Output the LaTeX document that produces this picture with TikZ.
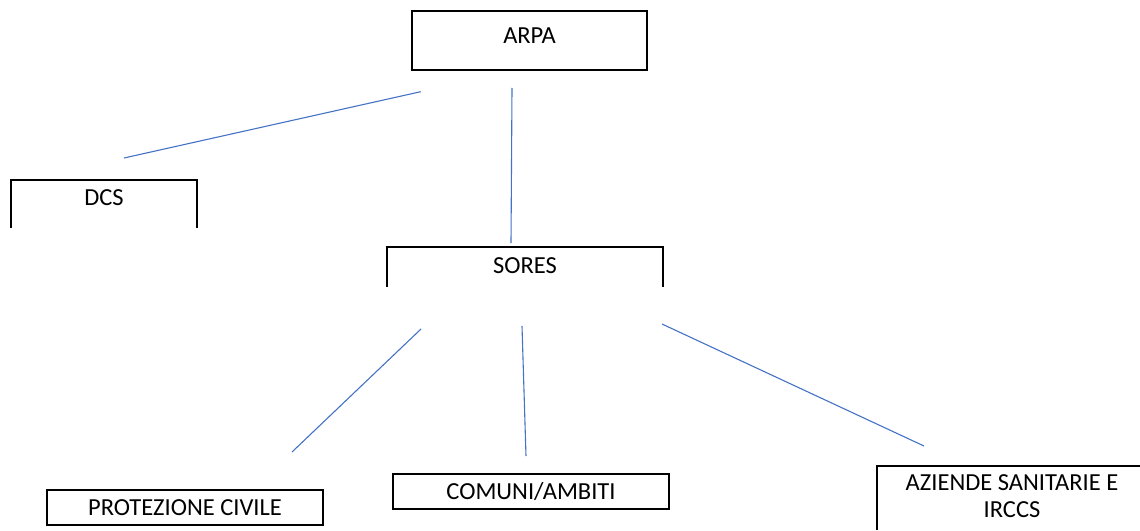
\documentclass[tikz,border=0pt]{standalone}
\usepackage{fontspec}
\setmainfont{Carlito}
\usetikzlibrary{positioning}
\definecolor{linkblue}{RGB}{68,114,196}
\tikzstyle{org}=[draw, line width=1.8pt, minimum height=35pt, minimum width=276pt, inner sep=0pt, font=\fontsize{24.5}{27}\selectfont]
\tikzstyle{lbl}=[inner sep=0pt, align=center, font=\fontsize{24.5}{27}\selectfont]
\tikzstyle{half}=[line width=1.8pt]
\tikzstyle{link}=[draw=linkblue, line width=1.1pt]

\begin{document}
\begin{tikzpicture}[x=1pt,y=-1pt]
\useasboundingbox (0,0) rectangle (1140,530);

\node[org, minimum width=235pt, minimum height=59pt, text depth=9pt, text height=15pt] at (529.5,40.5) (arpa) {ARPA};

% boxes open at the bottom
\node[lbl] at (104,198) (dcs) {DCS};
\draw[half] (11,228) |- (197,180) -- (197,228);

\node[lbl] at (525,265.5) (sores) {SORES};
\draw[half] (387,287) |- (663,247) -- (663,287);

\node[org] at (185,507.5) (protciv) {PROTEZIONE CIVILE};
\node[org] at (531,491.5) (comuni) {COMUNI/AMBITI};

\node[lbl] at (1012,496) (aziende) {AZIENDE SANITARIE E\\IRCCS};
\draw[half] (877,530) |- (1140,466);

% loose connectors
\coordinate (arpaL) at (420.7,91.7);
\coordinate (arpaB) at (512,88);
\coordinate (dcsT) at (124,158);
\coordinate (soresT) at (511,243);
\coordinate (soresL) at (421,329);
\coordinate (soresB) at (522,326);
\coordinate (soresR) at (662,324);
\coordinate (protT) at (292,452);
\coordinate (comT) at (526,456);
\coordinate (azT) at (924,446);

\draw[link] (arpaL) -- (dcsT);
\draw[link] (arpaB) -- (soresT);
\draw[link] (soresL) -- (protT);
\draw[link] (soresB) -- (comT);
\draw[link] (soresR) -- (azT);
\end{tikzpicture}
\end{document}
